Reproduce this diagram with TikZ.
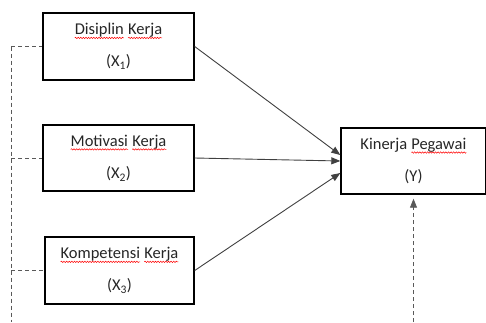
\documentclass[tikz,border=0pt]{standalone}
\usepackage{fontspec}
\setmainfont{Carlito}
\usetikzlibrary{arrows.meta,decorations.pathmorphing}
% red wavy underline (spell-check style) under a single word
\newcommand\redwave[1]{\tikz[baseline=(w.base)]{%
  \node[draw=none, inner sep=0pt, outer sep=0pt, minimum width=0pt, minimum height=0pt] (w) {#1};
  \draw[red, line width=0.5pt, decorate, decoration={snake, amplitude=0.7pt, segment length=2.6pt}]
    ([yshift=-3pt]w.base west) -- ([yshift=-3pt]w.base east);}}
\tikzset{
  varbox/.style={draw=black, line width=1.4pt, minimum width=151pt, minimum height=67pt,
                 align=center, font=\fontsize{16.5}{32}\selectfont, text=black!85},
  link/.style={draw=black!75, line width=0.9pt, -{Triangle[length=9pt,width=7pt]}},
  guide/.style={draw=black!65, line width=0.9pt, dash pattern=on 4pt off 3pt},
}
\begin{document}
\begin{tikzpicture}[x=1pt,y=-1pt]
\useasboundingbox (0,0) rectangle (486,322);

\node[varbox] (x1) at (118.5,46.5) {\redwave{Disiplin} \redwave{Kerja}\\(X\textsubscript{1})};
\node[varbox, minimum height=66pt] (x2) at (118.5,158) {\redwave{Motivasi} \redwave{Kerja}\\(X\textsubscript{2})};
\node[varbox, minimum width=149pt] (x3) at (119.5,270.5) {\redwave{Kompetensi} \redwave{Kerja}\\(X\textsubscript{3})};
\node[varbox, minimum width=145pt, minimum height=66pt] (y) at (413.5,161) {Kinerja \redwave{Pegawai}\\(Y)};

% paths into Y
\draw[link] (x1.east) -- ([yshift=6pt]y.west);
\draw[link] (x2.east) -- (y.west);
\draw[link] (x3.east) -- ([yshift=-12pt]y.west);

% dashed guide on the left
\coordinate (lt) at (11,46.5);
\coordinate (lb) at (11,322);
\draw[guide] (lt) -- (lb);
\draw[guide] (lt) -- (x1.west);
\draw[guide] (x2.west -| lt) -- (x2.west);
\draw[guide] (x3.west -| lt) -- (x3.west);

% dashed arrow from below into Y
\coordinate (yb) at (413.5,322);
\draw[guide, -{Triangle[length=9pt,width=7pt]}] (yb) -- ([yshift=-4pt]y.south);
\end{tikzpicture}
\end{document}
